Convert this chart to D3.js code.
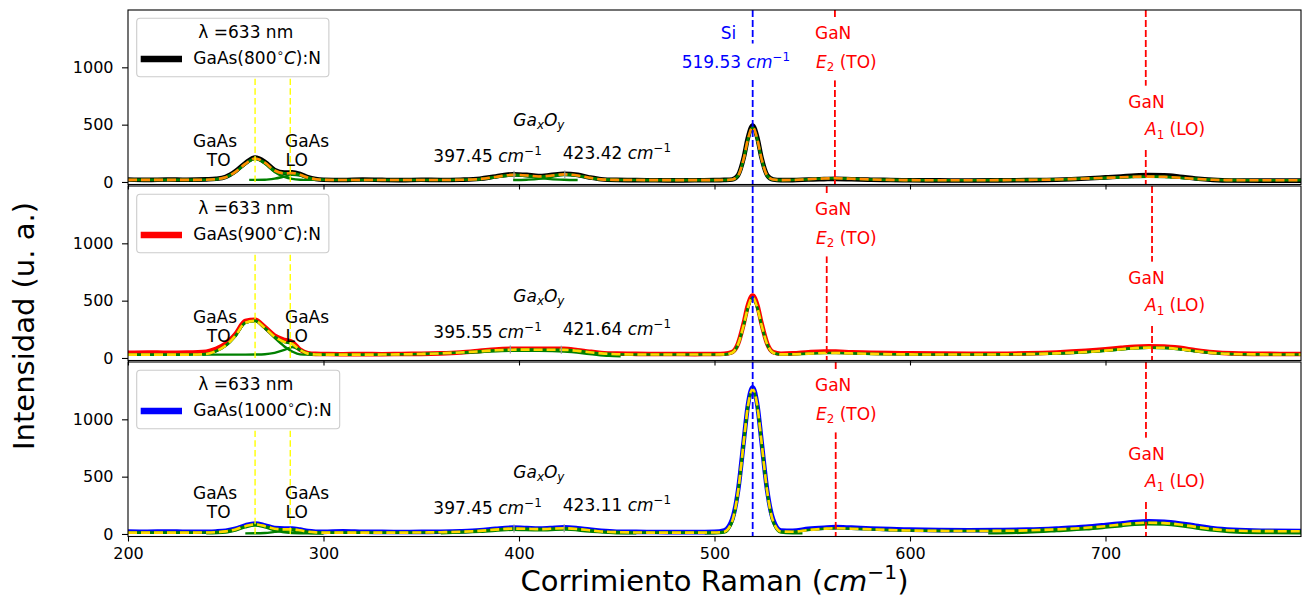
<!DOCTYPE html>
<html>
<head>
<meta charset="utf-8">
<script src="https://cdn.jsdelivr.net/npm/d3@7"></script>
<style>
  html, body { margin: 0; padding: 0; background: #fff; }
  svg { display: block; font-family: "DejaVu Sans", sans-serif; }
  text { white-space: pre; }
</style>
</head>
<body>
<svg id="chart" width="1308" height="600"></svg>
<script>
// Raman shift sampling positions (cm^-1), shared by every spectrum below
const shift = [200,210,220,230,240,245,250,255,260,265,270,275,280,284,288,292,296,300,310,320,
  330,340,350,360,370,380,388,397,404,410,416,423,430,436,442,450,460,470,480,490,
  500,505,509,512,515,517,519.5,522,524,527,530,534,540,548,556,562,570,580,590,600,
  615,630,645,660,675,690,700,708,715,722,730,738,746,755,765,780,800];

// Measured spectra (u. a.)
const raw800 = [22,18,22,19,23,28,45,95,165,212,175,105,82,84,70,42,26,20,17,21,
  18,16,19,17,20,28,48,68,62,52,60,72,62,40,24,18,16,15,14,15,
  16,18,22,58,215,380,492,380,215,58,22,16,16,22,25,27,24,20,17,15,
  14,13,14,16,20,30,40,48,56,60,58,46,30,18,13,12,12];
const raw900 = [46,48,45,47,55,80,125,210,322,333,270,195,158,140,72,42,36,35,33,34,
  33,35,36,40,48,62,74,80,81,80,80,80,68,55,44,38,36,35,35,34,
  35,37,51,123,306,455,545,455,306,123,51,37,40,50,56,55,50,46,42,40,
  38,37,37,40,48,62,75,88,98,102,100,88,68,50,40,36,35];
const raw1000 = [22,20,22,19,20,22,28,45,75,92,75,52,48,48,38,26,20,18,24,20,
  18,17,18,20,24,32,45,55,52,48,52,58,50,38,28,20,18,17,16,16,
  18,31,125,373,818,1114,1280,1114,818,373,125,31,28,45,55,60,55,48,42,38,
  34,32,34,38,48,62,78,92,104,110,106,92,72,50,36,28,26];

// Fitted envelopes
const fit800 = [18,18,18,18,20,25,42,88,158,205,168,100,75,77,63,38,24,19,17,17,
  17,17,17,17,19,26,44,62,57,48,55,66,57,37,23,18,17,16,16,16,
  16,17,21,55,207,366,478,366,207,55,21,16,17,24,30,32,28,22,18,16,
  15,15,16,18,22,30,36,41,45,47,45,37,27,19,16,15,15];
const fit900 = [29,29,29,29,35,60,108,195,308,324,262,185,140,122,70,38,30,29,29,29,
  30,32,35,40,48,58,67,72,73,72,72,71,62,50,40,33,30,30,30,30,
  30,31,46,117,292,432,528,432,292,117,46,31,32,38,43,44,40,36,33,31,
  30,30,31,34,40,52,64,76,86,90,88,77,60,44,35,31,30];
const fit1000 = [12,12,12,12,13,16,23,40,68,84,68,46,40,40,32,20,14,12,12,12,
  12,12,13,15,19,27,38,47,45,42,45,50,43,32,22,16,13,12,12,12,
  13,20,110,365,810,1105,1262,1105,810,365,110,22,20,34,45,50,46,40,34,30,
  27,26,27,31,40,54,68,82,93,98,95,82,62,42,30,25,24];

// Individual fitted bands [shift, intensity]
const comp800TO = [[240,20],[245,24],[250,41],[255,86],[260,155],[265,202],[270,160],[275,88],[280,45],[284,27],[288,20],[292,18],[296,18]];
const comp800LO = [[262,18],[265,18],[270,19],[275,29],[280,47],[284,62],[288,56],[292,36],[296,23],[300,19]];
const comp800Ga1 = [[375,20],[380,24],[388,40],[397,58],[404,50],[410,36],[416,25],[423,19],[430,17]];
const comp800Ga2 = [[397,17],[404,20],[410,27],[416,44],[423,61],[430,53],[436,35],[442,22],[446,19]];
const comp800Si = [[505,17],[509,20],[512,53],[515,205],[517,363],[519.5,475],[522,363],[524,205],[527,53],[530,20],[534,16]];
const comp800A1 = [[675,21],[690,29],[700,35],[708,40],[715,44],[722,46],[730,44],[738,36],[746,26],[755,18],[765,15]];

const comp900TO = [[238,29],[245,58],[250,106],[255,190],[260,305],[265,322],[270,258],[275,175],[280,100],[284,56],[288,31],[292,29],[300,29]];
const comp900LO = [[238,29],[250,29],[260,29],[265,30],[270,33],[275,45],[280,70],[284,95],[288,68],[292,40],[296,31],[300,29]];
const comp900Ga = [[370,42],[380,50],[397,63],[410,62],[423,55],[436,35],[446,18],[452,15]];
const comp900Si = [[505,31],[509,45],[512,115],[515,290],[517,430],[519.5,526],[522,430],[524,290],[527,115],[530,45],[534,31]];
const comp900A1 = [[675,38],[690,50],[700,62],[708,74],[715,84],[722,88],[730,86],[738,75],[746,58],[755,42],[765,33]];

const comp1000TO = [[240,5],[250,12],[255,30],[260,58],[265,74],[270,58],[275,32],[280,14],[288,6],[300,5]];
const comp1000LO = [[260,5],[270,8],[275,18],[280,28],[284,30],[288,22],[292,10],[300,5]];
const comp1000Ga = [[360,5],[380,18],[397,36],[410,32],[423,38],[436,22],[450,6],[460,5]];
const comp1000Si = [[495,5],[500,6],[505,12],[509,100],[512,355],[515,800],[517,1095],[519.5,1252],[522,1095],[524,800],[527,355],[530,100],[534,12],[540,6],[545,5]];
const comp1000A1 = [[640,5],[660,12],[675,25],[690,40],[700,55],[708,68],[715,80],[722,85],[730,82],[738,70],[746,50],[755,30],[765,15],[780,8],[800,5]];

// Reference modes (cm^-1)
const temps = [800, 900, 1000];
const gaAsModes = [265, 283];
const siPeak = 519.53;
const ganE2 = [561.6, 557.4, 562.0];
const ganA1 = [720.6, 723.8, 720.7];
const gaOxPeaks = [[397.45, 423.42], [395.55, 421.64], [397.45, 423.11]];
const gaOxHeights = [[62, 66], [73, 71], [47, 50]];
const laserLine = 633;

const xTicks = [200, 300, 400, 500, 600, 700];
const yTicks = [0, 500, 1000];

// ---------- layout ----------
const svg = d3.select("#chart");
const PH = 174.5;
const tops = [10, 186, 362];
const x = d3.scaleLinear().domain([200, 800]).range([128, 1301]);
const y = d3.scaleLinear().domain([-22, 1500]).range([PH, 0]);
const line = d3.line().x(d => x(d[0])).y(d => y(d[1])).curve(d3.curveMonotoneX);

const panels = [
  { raw: raw800, fit: fit800, comps: [comp800TO, comp800LO, comp800Ga1, comp800Ga2, comp800Si, comp800A1], color: "#000000", fitColor: "#ff8c00" },
  { raw: raw900, fit: fit900, comps: [comp900TO, comp900LO, comp900Ga, comp900Si, comp900A1], color: "#ff0000", fitColor: "#ffd700" },
  { raw: raw1000, fit: fit1000, comps: [comp1000TO, comp1000LO, comp1000Ga, comp1000Si, comp1000A1], color: "#0000ff", fitColor: "#ffd700" }
];

const ANN = 17;   // annotation font size
const GREEN = "#008000";

// text with italic / super- / subscript runs
function rich(sel, parts, fs) {
  let cur = 0;
  parts.forEach(p => {
    const t = typeof p === "string" ? p : p[0];
    const st = typeof p === "string" ? "" : p[1];
    const off = st.includes("sup") ? -0.42 * fs : st.includes("sub") ? 0.22 * fs : 0;
    const ts = sel.append("tspan").text(t);
    if (off !== cur) ts.attr("dy", (off - cur).toFixed(2));
    cur = off;
    if (st.includes("it")) ts.attr("font-style", "italic");
    if (st.includes("sup") || st.includes("sub")) ts.attr("font-size", (0.7 * fs).toFixed(1));
  });
  return sel;
}

function label(g, xv, yv, parts, opts = {}) {
  const t = g.append("text")
    .attr("x", x(xv)).attr("y", y(yv))
    .attr("font-size", ANN)
    .attr("fill", opts.color || "#000")
    .attr("text-anchor", opts.anchor || "start");
  rich(t, parts, ANN);
  return t;
}

// white box behind a group of text lines (hides reference lines)
function boxed(g, build) {
  const grp = g.append("g");
  const bg = grp.append("rect");
  build(grp);
  const bb = grp.node().getBBox();
  const pad = 6;
  bg.attr("x", bb.x - pad).attr("y", bb.y - pad)
    .attr("width", bb.width + 2 * pad).attr("height", bb.height + 2 * pad)
    .attr("fill", "#fff");
}

const cm = [["cm", "it"], ["\u22121", "sup"]];

panels.forEach((p, i) => {
  const g = svg.append("g").attr("transform", `translate(0,${tops[i]})`);
  const clipId = "clip" + i;
  g.append("clipPath").attr("id", clipId)
    .append("rect").attr("x", x(200)).attr("y", 0).attr("width", x(800) - x(200)).attr("height", PH);
  const plot = g.append("g").attr("clip-path", `url(#${clipId})`);

  // measured spectrum
  plot.append("path").datum(d3.zip(shift, p.raw))
    .attr("d", line).attr("fill", "none").attr("stroke", p.color)
    .attr("stroke-width", 4.6).attr("stroke-linejoin", "round");

  // fitted bands
  p.comps.forEach(c => {
    plot.append("path").datum(c).attr("d", line).attr("fill", "none")
      .attr("stroke", GREEN).attr("stroke-width", 2.4);
  });

  // fitted envelope
  const fitPts = d3.zip(shift, p.fit);
  plot.append("path").datum(fitPts).attr("d", line).attr("fill", "none")
    .attr("stroke", GREEN).attr("stroke-width", 2.6);
  plot.append("path").datum(fitPts).attr("d", line).attr("fill", "none")
    .attr("stroke", p.fitColor).attr("stroke-width", 2.6).attr("stroke-dasharray", "9,4");

  // Ga_xO_y band markers
  gaOxPeaks[i].forEach((v, j) => {
    const h = gaOxHeights[i][j];
    plot.append("line").attr("x1", x(v)).attr("x2", x(v))
      .attr("y1", y(h - 35)).attr("y2", y(h + 35))
      .attr("stroke", "#999").attr("stroke-width", 1.2);
  });

  // GaAs TO / LO
  gaAsModes.forEach(v => {
    plot.append("line").attr("x1", x(v)).attr("x2", x(v))
      .attr("y1", y(0)).attr("y2", y(900))
      .attr("stroke", "#ffff00").attr("stroke-width", 1.4).attr("stroke-dasharray", "6.5,3.2");
  });

  // Si, GaN E2, GaN A1 reference lines
  const vline = (v, col) => plot.append("line").attr("x1", x(v)).attr("x2", x(v))
    .attr("y1", 0).attr("y2", PH)
    .attr("stroke", col).attr("stroke-width", 1.8).attr("stroke-dasharray", "7,3");
  vline(siPeak, "#0000ff");
  vline(ganE2[i], "#ff0000");
  vline(ganA1[i], "#ff0000");

  // annotations
  label(g, 244.5, 308, ["GaAs"], { anchor: "middle" });
  label(g, 246.4, 135, ["TO"], { anchor: "middle" });
  label(g, 280.3, 308, ["GaAs"]);
  label(g, 280.6, 135, ["LO"]);
  label(g, 397.1, 491, [["Ga", "it"], ["x", "it sub"], ["O", "it"], ["y", "it sub"]]);
  label(g, 356.2, 177, [gaOxPeaks[i][0].toFixed(2) + " ", ...cm]);
  label(g, 422.4, 198, [gaOxPeaks[i][1].toFixed(2) + " ", ...cm]);

  if (i === 0) {
    label(g, 503.2, 1245, ["Si"], { color: "#0000ff" });
    boxed(g, grp => label(grp, 483.2, 997, [siPeak.toFixed(2) + " ", ...cm], { color: "#0000ff" }));
  }
  boxed(g, grp => {
    label(grp, 551.4, 1245, ["GaN"], { color: "#ff0000" });
    label(grp, 551.9, 997, [["E", "it"], ["2", "sub"], " (TO)"], { color: "#ff0000" });
  });
  boxed(g, grp => {
    label(grp, 711.7, 648, ["GaN"], { color: "#ff0000" });
    label(grp, 720.2, 410, [["A", "it"], ["1", "sub"], " (LO)"], { color: "#ff0000" });
  });

  // axes
  const ax = g.append("g").attr("transform", `translate(0,${PH})`)
    .call(d3.axisBottom(x).tickValues(xTicks).tickSize(5).tickPadding(6.5)
      .tickFormat(i === 2 ? d3.format("d") : () => ""));
  const ay = g.append("g").attr("transform", `translate(${x(200)},0)`)
    .call(d3.axisLeft(y).tickValues(yTicks).tickSize(6).tickPadding(8.5).tickFormat(d3.format("d")));
  [ax, ay].forEach(a => {
    a.select(".domain").remove();
    a.selectAll("line").attr("stroke", "#000").attr("stroke-width", 1.1);
    a.selectAll("text").attr("font-size", 16).attr("font-family", "DejaVu Sans").attr("fill", "#000");
  });

  g.append("rect").attr("x", x(200)).attr("y", 0)
    .attr("width", x(800) - x(200)).attr("height", PH)
    .attr("fill", "none").attr("stroke", "#000").attr("stroke-width", 1.1);

  // legend
  const lg = g.append("g");
  const lbox = lg.append("rect").attr("x", 136.7).attr("y", 8.3).attr("height", 58.4)
    .attr("rx", 3.5).attr("fill", "#fff").attr("fill-opacity", 0.8)
    .attr("stroke", "#cccccc").attr("stroke-width", 1.1);
  lg.append("text").attr("x", 198.3).attr("y", 28.3).attr("font-size", ANN)
    .text("\u03bb =" + laserLine + " nm");
  lg.append("line").attr("x1", 140.7).attr("x2", 182).attr("y1", 49).attr("y2", 49)
    .attr("stroke", p.color).attr("stroke-width", 6.5);
  const lt = lg.append("text").attr("x", 193.3).attr("y", 54.3).attr("font-size", ANN);
  rich(lt, ["GaAs(" + temps[i], ["\u2218", "sup"], ["C", "it"], "):N"], ANN);
  const lb = lt.node().getBBox();
  lbox.attr("width", lb.x + lb.width + 8 - 136.7);
});

// axis titles
const xl = svg.append("text").attr("x", (x(200) + x(800)) / 2).attr("y", 591)
  .attr("text-anchor", "middle").attr("font-size", 29);
rich(xl, ["Corrimiento Raman (", ["cm", "it"], ["\u22121", "sup"], ")"], 29);

svg.append("text").attr("transform", "translate(34,326) rotate(-90)")
  .attr("text-anchor", "middle").attr("font-size", 29)
  .text("Intensidad (u. a.)");
</script>
</body>
</html>
